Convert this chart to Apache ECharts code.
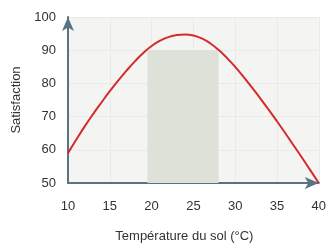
<!DOCTYPE html>
<html><head><meta charset="utf-8">
<script src="https://cdn.jsdelivr.net/npm/echarts@6/dist/echarts.min.js"></script>
<style>html,body{margin:0;padding:0;background:#fff}#c{width:329px;height:248px}</style>
</head><body><div id="c"></div>
<script>
var temps = [10, 11, 12, 13, 14, 15, 16, 17, 18, 19, 20, 21, 22, 23, 24, 25, 26, 27, 28, 29, 30, 31, 32, 33, 34, 35, 36, 37, 38, 39, 40];
var satisfaction = [59, 63.1, 67.05, 70.75, 74.25, 77.65, 80.85, 83.85, 86.65, 89.15, 91.25, 92.85, 93.95, 94.55, 94.75, 94.45, 93.55, 92.1, 90.1, 87.7, 85.0, 82.0, 78.8, 75.5, 72.1, 68.6, 65.0, 61.3, 57.6, 53.8, 50];
var optimumRange = [19.5, 28];
var optimumTop = 90;
var xTicks = [10, 15, 20, 25, 30, 35, 40];
var yTicks = [50, 60, 70, 80, 90, 100];

var chart = echarts.init(document.getElementById('c'), null, {renderer: 'canvas'});
var axisColor = '#587482';
chart.setOption({
  animation: false,
  grid: {left: 68, right: 9, top: 17, bottom: 58, show: true, backgroundColor: '#f4f4f2', borderWidth: 0},
  xAxis: {
    type: 'value', min: xTicks[0], max: xTicks[xTicks.length - 1], interval: 5,
    name: 'Température du sol (°C)', nameLocation: 'middle', nameGap: 47,
    nameTextStyle: {fontFamily: 'Liberation Sans', fontSize: 13, color: '#333', padding: [0, 18, 0, 0]},
    axisLine: {lineStyle: {color: axisColor, width: 2}, symbol: ['none', 'arrow'], symbolSize: [9, 14]},
    axisTick: {show: false},
    axisLabel: {fontFamily: 'Liberation Sans', fontSize: 13, color: '#333', margin: 17},
    splitLine: {show: true, lineStyle: {color: '#eaeae8', width: 1}}
  },
  yAxis: {
    type: 'value', min: yTicks[0], max: yTicks[yTicks.length - 1], interval: 10,
    name: 'Satisfaction', nameLocation: 'middle', nameGap: 41, nameRotate: 90,
    nameTextStyle: {fontFamily: 'Liberation Sans', fontSize: 13, color: '#333'},
    axisLine: {lineStyle: {color: axisColor, width: 2}, symbol: ['none', 'arrow'], symbolSize: [9, 14]},
    axisTick: {show: false},
    axisLabel: {fontFamily: 'Liberation Sans', fontSize: 13, color: '#333', margin: 12},
    splitLine: {show: true, lineStyle: {color: '#eaeae8', width: 1}}
  },
  series: [{
    type: 'line', data: temps.map(function (t, i) { return [t, satisfaction[i]]; }),
    smooth: true, showSymbol: false, clip: false, z: 3,
    lineStyle: {color: '#d42b2b', width: 2},
    markArea: {
      silent: true,
      itemStyle: {color: '#dde1d7'},
      data: [[{xAxis: optimumRange[0], yAxis: yTicks[0]}, {xAxis: optimumRange[1], yAxis: optimumTop}]]
    }
  }]
});
</script></body></html>
